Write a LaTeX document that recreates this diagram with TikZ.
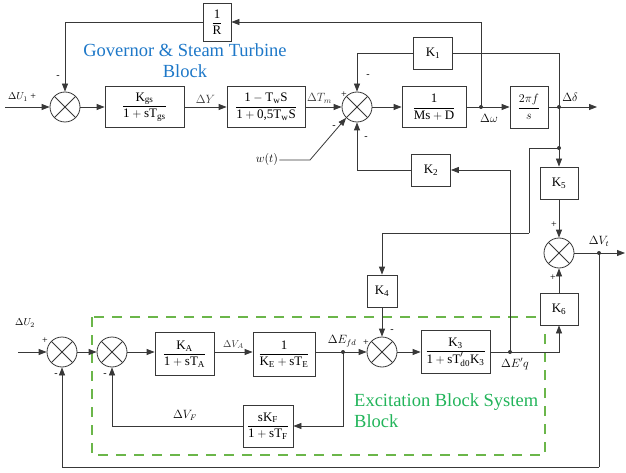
\documentclass[tikz,border=0pt]{standalone}
\usepackage{amsmath}
\usepackage{fontspec}
\setmainfont{Liberation Serif}
\usepackage{xcolor}
\definecolor{GovBlue}{HTML}{1E78C8}
\definecolor{ExcGreen}{HTML}{22B45A}
\definecolor{DashGreen}{HTML}{6BB64A}
\definecolor{LineGray}{HTML}{383838}
\usepackage{tikz}
\usetikzlibrary{arrows.meta,positioning,calc}
\newcommand{\tx}[1]{\text{#1}}

\begin{document}
\begin{tikzpicture}[x=1pt,y=-1pt,font=\fontsize{13}{15}\selectfont]
\tikzset{
  blk/.style={draw=LineGray,line width=.8pt,fill=white,inner sep=1pt},
  sumnode/.style={circle,draw=LineGray,line width=.8pt,fill=white,minimum size=30pt,inner sep=0pt,
    path picture={\draw[LineGray,line width=.8pt]
      ([shift={(45:15pt)}]path picture bounding box.center) -- ([shift={(225:15pt)}]path picture bounding box.center)
      ([shift={(135:15pt)}]path picture bounding box.center) -- ([shift={(-45:15pt)}]path picture bounding box.center);}},
  sig/.style={LineGray,line width=.8pt},
  arr/.style={sig,-{Triangle[length=8pt,width=6pt]}},
  lbl/.style={font=\fontsize{11.5}{13}\selectfont,inner sep=1pt},
  small/.style={font=\fontsize{10}{11}\selectfont,inner sep=1pt},
  sgn/.style={font=\fontsize{10}{11}\selectfont,inner sep=0pt},
  title/.style={font=\fontsize{18.5}{21}\selectfont,inner sep=0pt}
}
\useasboundingbox (0,0) rectangle (626,473);

% excitation frame
\draw[DashGreen,line width=2pt,dash pattern=on 10pt off 8pt] (92,317) rectangle (545,455);

% governor, turbine and machine row
\node[sumnode] (s1) at (65,107) {};
\node[blk,minimum width=79pt,minimum height=41pt] (gov) at (144.5,107)
  {$\dfrac{\tx{K}_{\tx{gs}}}{\tx{1} + \tx{sT}_{\tx{gs}}}$};
\node[blk,minimum width=78pt,minimum height=41pt] (turb) at (266,107)
  {$\dfrac{\tx{1} - \tx{T}_{\tx{w}}\tx{S}}{\tx{1} + \tx{0,5T}_{\tx{w}}\tx{S}}$};
\node[sumnode] (s2) at (357,107) {};
\node[blk,minimum width=64pt,minimum height=41pt] (mach) at (434,107)
  {$\dfrac{\tx{1}}{\tx{Ms} + \tx{D}}$};
\node[blk,minimum width=38pt,minimum height=42pt] (ang) at (529,107) {$\dfrac{2\pi f}{s}$};
\node[blk,minimum width=28pt,minimum height=38pt] (R) at (217,22) {$\dfrac{\tx{1}}{\tx{R}}$};
\node[blk,minimum width=39pt,minimum height=32pt] (k1) at (433,53) {$\tx{K}_{\tx{1}}$};
\node[blk,minimum width=39pt,minimum height=32pt] (k2) at (431,170) {$\tx{K}_{\tx{2}}$};
\node[blk,minimum width=38pt,minimum height=32pt] (k5) at (559,183) {$\tx{K}_{\tx{5}}$};
\node[sumnode] (s5) at (559,253) {};
\node[blk,minimum width=30pt,minimum height=32pt] (k4) at (382,291) {$\tx{K}_{\tx{4}}$};
\node[blk,minimum width=38pt,minimum height=32pt] (k6) at (559,309) {$\tx{K}_{\tx{6}}$};

% excitation row
\node[sumnode] (s3) at (62,352) {};
\node[sumnode] (s4) at (112,352) {};
\node[blk,minimum width=59pt,minimum height=43pt] (ka) at (184.5,354)
  {$\dfrac{\tx{K}_{\tx{A}}}{\tx{1} + \tx{sT}_{\tx{A}}}$};
\node[blk,minimum width=62pt,minimum height=44pt] (ke) at (284,354)
  {$\dfrac{\tx{1}}{\tx{K}_{\tx{E}} + \tx{sT}_{\tx{E}}}$};
\node[sumnode] (s6) at (382,352) {};
\node[blk,minimum width=69pt,minimum height=43pt] (k3) at (455.5,352)
  {$\dfrac{\tx{K}_{\tx{3}}}{\tx{1} + \tx{sT}'_{\tx{d0}}\tx{K}_{\tx{3}}}$};
\node[blk,minimum width=50pt,minimum height=42pt] (kf) at (268,426)
  {$\dfrac{\tx{sK}_{\tx{F}}}{\tx{1} + \tx{sT}_{\tx{F}}}$};

% branch points and free ends
\coordinate (dw) at (481,107);
\coordinate (dd) at (559,107);
\coordinate (dd2) at (559,148);
\coordinate (vt) at (599,253);
\coordinate (efd) at (343,352);
\coordinate (eq) at (510,352);
\coordinate (u1in) at (5,107);
\coordinate (ddout) at (597,107);
\coordinate (vtout) at (625,253);
\coordinate (u2in) at (18,352);
\coordinate (wbend) at (310,160);
\coordinate (fbl) at (599,467);
\coordinate (k4bend) at (529,233);

% top loop
\draw[arr] (u1in) -- (s1);
\draw[arr] (s1) -- (gov);
\draw[arr] (gov) -- node[lbl,above=2pt]{$\Delta Y$} (turb);
\draw[arr] (turb) -- node[lbl,above=2pt,xshift=-4pt]{$\Delta T_m$} (s2);
\draw[arr] (s2) -- (mach);
\draw[sig] (mach) -- (dw);
\draw[arr] (dw) -- (ang);
\draw[sig] (ang) -- (dd);
\draw[arr] (dd) -- (ddout);
\draw[arr] (dw) |- (R.east);
\draw[arr] (R.west) -| (s1.north);
\draw[sig] (dd) |- (k1.east);
\draw[arr] (k1.west) -| (s2.north);
\draw[arr] (k2.west) -| (s2.south);
\node[lbl] (wt) at (267,160) {$w(t)$};
\draw[arr] (wt.east) -- (wbend) -- (s2.south west);

% terminal voltage
\draw[sig] (dd) -- (dd2);
\draw[arr] (dd2) -- (k5);
\draw[sig] (dd2) -| (k4bend);
\draw[arr] (k4bend) -| (k4.north);
\draw[arr] (k5) -- (s5);
\draw[arr] (k6) -- (s5);
\draw[sig] (s5) -- (vt);
\draw[arr] (vt) -- (vtout);
\draw[sig] (vt) -- (fbl);
\draw[arr] (fbl) -| (s3.south);

% excitation loop
\draw[arr] (u2in) -- (s3);
\draw[arr] (s3) -- (s4);
\draw[arr] (s4) -- (s4 -| ka.west);
\draw[arr] (ka.east |- s4) -- node[small,above=2pt]{$\Delta V_A$} (s4 -| ke.west);
\draw[sig] (ke.east |- s4) -- (efd);
\draw[arr] (efd) -- (s6);
\draw[arr] (s6) -- (k3);
\draw[sig] (k3) -- (eq);
\draw[arr] (eq) -| (k6.south);
\draw[arr] (eq) |- (k2.east);
\draw[arr] (k4) -- (s6);
\draw[arr] (efd) |- (kf.east);
\draw[arr] (kf.west) -| (s4.south);

% junction dots
\foreach \p in {dw,dd,dd2,vt,efd,eq} \fill[LineGray] (\p) circle (2pt);

% signal labels
\node[small] (lu1) at (22,97) {$\Delta U_1$ +};
\node[lbl] (ldw) at (489,118) {$\Delta\omega$};
\node[lbl] (ldd) at (570,97) {$\Delta\delta$};
\node[lbl] (lvt) at (599,241) {$\Delta V_t$};
\node[small] (lu2) at (25,323) {$\Delta U_2$};
\node[lbl] (lefd) at (342,341) {$\Delta E_{fd}$};
\node[lbl] (leq) at (515,364) {$\Delta E'q$};
\node[lbl] (lvf) at (185,415) {$\Delta V_F$};

% signs
\node[sgn] (g1) at (58,77) {-};
\node[sgn] (g2) at (344,95) {+};
\node[sgn] (g3) at (368,76) {-};
\node[sgn] (g4) at (334,127) {-};
\node[sgn] (g5) at (366,138) {-};
\node[sgn] (g6) at (554,225) {+};
\node[sgn] (g7) at (553,278) {+};
\node[sgn] (g8) at (45,341) {+};
\node[sgn] (g9) at (56,375) {-};
\node[sgn] (g10) at (105,375) {-};
\node[sgn] (g11) at (366,343) {+};
\node[sgn] (g12) at (392,331) {-};

% block titles
\node[title,GovBlue,align=center] (govtitle) at (185,61) {Governor \& Steam Turbine\\Block};
\node[title,ExcGreen,align=left,anchor=west] (exctitle) at (354,411) {Excitation Block System\\Block};
\end{tikzpicture}
\end{document}
